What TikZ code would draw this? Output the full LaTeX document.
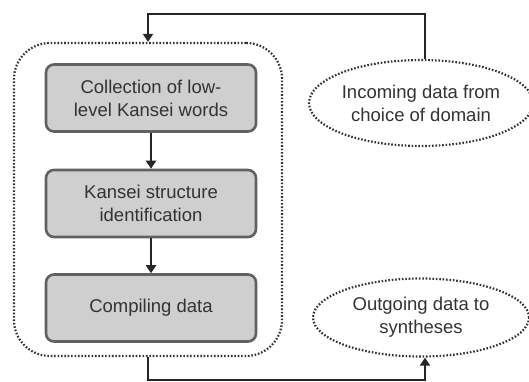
\documentclass[tikz,border=0pt]{standalone}
\usepackage{fontspec}
\setmainfont{Liberation Sans}
\usetikzlibrary{shapes.geometric,arrows.meta}
\tikzset{
  stepbox/.style={draw=black!62, line width=2.6pt, fill=black!19, rounded corners=8pt,
    minimum width=210pt, minimum height=67pt, align=center, inner sep=2pt},
  dotline/.style={draw=black!80, line width=2.2pt, dash pattern=on 1.6pt off 1.8pt},
  dataoval/.style={dotline, ellipse, minimum width=216pt, align=center, inner sep=0pt},
  flow/.style={draw=black!85, line width=2.3pt},
  flowarrow/.style={flow, -{Triangle[width=10pt,length=8pt]}},
  txt/.style={font=\fontsize{18.5}{23}\selectfont, text=black!80}
}
\begin{document}
\begin{tikzpicture}[x=1pt, y=-1pt]
  \useasboundingbox (0,0) rectangle (529,381);

  % dotted container around the three steps
  \node[dotline, rounded corners=36pt, minimum width=268pt, minimum height=313pt]
    (frame) at (148,199.5) {};

  % process steps
  \node[stepbox, txt] (b1) at (151,98)  {Collection of low-\\level Kansei words};
  \node[stepbox, txt] (b2) at (151,203.5) {Kansei structure\\identification};
  \node[stepbox, txt] (b3) at (151,308) {Compiling data};

  \draw[flowarrow] (b1.south) -- (b2.north);
  \draw[flowarrow] (b2.south) -- (b3.north);

  % incoming and outgoing data
  \node[dataoval, txt, minimum height=86pt] (inc) at (421,103) {Incoming data from\\choice of domain};
  \node[dataoval, txt, minimum height=78pt] (out) at (421,317.5) {Outgoing data to\\syntheses};

  % routing corners
  \coordinate (tr) at (425,14);
  \coordinate (tl) at (148,14);
  \coordinate (bl) at (148,380);
  \coordinate (br) at (425,380);

  \draw[flowarrow] (inc.north -| tr) -- (tr) -- (tl) -- (frame.north);
  \draw[flowarrow] (frame.south) -- (bl) -- (br) -- (out.south -| br);
\end{tikzpicture}
\end{document}
